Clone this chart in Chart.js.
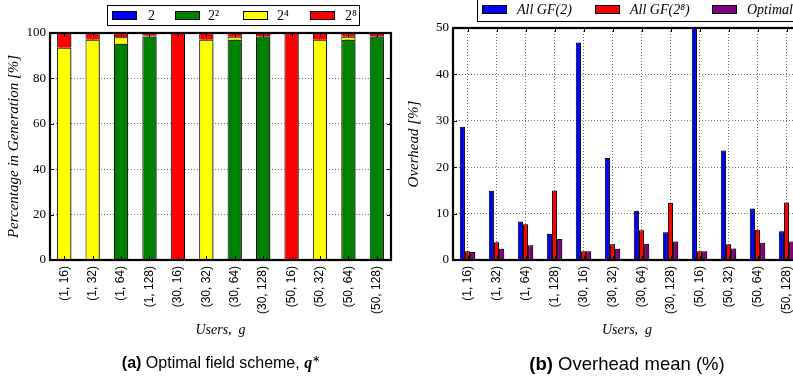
<!DOCTYPE html>
<html><head><meta charset="utf-8">
<script src="https://cdn.jsdelivr.net/npm/chart.js@4/dist/chart.umd.min.js"></script>
<style>
html,body{margin:0;padding:0;background:#fff;width:793px;height:377px;overflow:hidden;position:relative}
#wa{position:absolute;left:0;top:0;width:400px;height:377px}
#wb{position:absolute;left:400px;top:0;width:410px;height:377px}
.cap{position:absolute;font-family:"Liberation Sans",Arial,sans-serif;white-space:nowrap;transform:translateX(-50%);color:#000;line-height:1}
.cap sup{font-size:60%;vertical-align:0.6em;line-height:0}
</style></head><body>
<div id="wa"><canvas id="ca" width="400" height="377"></canvas></div>
<div id="wb"><canvas id="cb" width="410" height="377"></canvas></div>
<div class="cap" style="left:221px;top:355px;font-size:16px"><b>(a)</b> Optimal field scheme, <b><i style="font-family:'Liberation Serif',serif">q</i></b><sup>∗</sup></div>
<div class="cap" style="left:627px;top:355px;font-size:18.5px"><b>(b)</b> Overhead mean (%)</div>
<script>
// ---- data ----
const categories = ['(1, 16)','(1, 32)','(1, 64)','(1, 128)','(30, 16)','(30, 32)','(30, 64)','(30, 128)','(50, 16)','(50, 32)','(50, 64)','(50, 128)'];
const fieldLabels = ['2','2²','2⁴','2⁸'];
const share2   = [0,0,0,0,0,0,0,0,0,0,0,0];
const share4   = [0,0,95.3,98.5,0,0,97.0,98.5,0,0,97.0,98.5];
const share16  = [93.5,97.0,2.8,0.3,0,97.0,1.3,0,0,97.0,1.3,0];
const share256 = [6.5,3.0,1.9,1.2,100,3.0,1.7,1.5,100,3.0,1.7,1.5];
const overheadLabels = ['All GF(2)','All GF(2⁸)','Optimal'];
const overheadGF2     = [28.7,14.9,8.3,5.6,46.9,22.0,10.6,6.0,50,23.6,11.1,6.2];
const overheadGF256   = [1.9,3.8,7.7,15.0,1.9,3.4,6.4,12.3,1.9,3.4,6.5,12.4];
const overheadOptimal = [1.7,2.4,3.2,4.5,1.9,2.4,3.5,4.0,1.9,2.5,3.7,4.0];
const yTicksA = [0,20,40,60,80,100];
const yTicksB = [0,10,20,30,40,50];

// ---- plugins ----
const shadowPlugin = {
  id:'barShadow',
  beforeDatasetsDraw(chart){const c=chart.ctx;c.save();c.shadowColor='rgba(0,0,0,0.45)';c.shadowOffsetX=2;c.shadowOffsetY=0;c.shadowBlur=1;},
  afterDatasetsDraw(chart){chart.ctx.restore();}
};
const framePlugin = {
  id:'frameTicks',
  afterDraw(chart){
    const c=chart.ctx,a=chart.chartArea;
    c.save();c.strokeStyle='#000';c.lineWidth=1;
    const ys=chart.scales.y, xs=chart.scales.x;
    ys.ticks.forEach(t=>{const p=Math.round(ys.getPixelForValue(t.value))+0.5;
      c.beginPath();c.moveTo(a.left,p);c.lineTo(a.left+4,p);c.moveTo(a.right,p);c.lineTo(a.right-4,p);c.stroke();});
    xs.ticks.forEach((t,i)=>{const p=Math.round(xs.getPixelForTick(i))+0.5;
      c.beginPath();c.moveTo(p,a.bottom);c.lineTo(p,a.bottom-4);c.moveTo(p,a.top);c.lineTo(p,a.top+4);c.stroke();});
    c.lineWidth=2.2;c.strokeRect(a.left,a.top,a.right-a.left,a.bottom-a.top);
    c.restore();
  }
};
const boxLegend = {
  id:'boxLegend',
  afterDraw(chart,args,o){
    const c=chart.ctx;c.save();
    c.fillStyle='#fff';c.fillRect(o.box[0],o.box[1],o.box[2],o.box[3]);
    c.strokeStyle='#000';c.lineWidth=1;c.strokeRect(o.box[0]+0.5,o.box[1]+0.5,o.box[2],o.box[3]);
    c.font=o.font;c.textBaseline='middle';c.textAlign='left';
    chart.data.datasets.forEach((d,i)=>{
      const x=o.sx[i];
      c.fillStyle=d.backgroundColor;c.fillRect(x,o.sy,o.sw,o.sh);
      c.strokeStyle='#000';c.strokeRect(x+0.5,o.sy+0.5,o.sw-1,o.sh-1);
      c.fillStyle='#000';c.fillText(d.label,o.tx[i],o.ty);
    });
    c.restore();
  }
};

const gridStyle = {color:'rgba(0,0,0,0.55)',lineWidth:1,drawTicks:false};
const serif = "'Liberation Serif','Times New Roman',serif";
const sans = "'Liberation Sans',Arial,sans-serif";

function xAxis(){
  return {
    z:1, offset:true,
    grid:Object.assign({offset:false},gridStyle),
    border:{display:false,dash:[1,2]},
    ticks:{autoSkip:false,minRotation:90,maxRotation:90,padding:6,color:'#000',font:{family:sans,size:12}},
    title:{display:true,text:'Users,  g',color:'#000',font:{family:serif,size:14,style:'italic'},padding:{top:0,bottom:1}},
    afterFit(s){s.height=80;}
  };
}
function yAxis(max,step,title,w,tickVals){
  return {
    z:1, min:0, max:max,
    afterBuildTicks(s){s.ticks=tickVals.map(v=>({value:v}));},
    grid:gridStyle,
    border:{display:false,dash:[1,2]},
    ticks:{stepSize:step,padding:4,color:'#000',font:{family:serif,size:13}},
    title:{display:true,text:title,color:'#000',font:{family:serif,size:15,style:'italic'},padding:{top:5,bottom:0}},
    afterFit(s){s.width=w;}
  };
}

Chart.defaults.animation=false;

new Chart(document.getElementById('ca'),{
  type:'bar',
  data:{labels:categories,datasets:[
    {label:fieldLabels[0],data:share2,backgroundColor:'#0000ff'},
    {label:fieldLabels[1],data:share4,backgroundColor:'#008000'},
    {label:fieldLabels[2],data:share16,backgroundColor:'#ffff00'},
    {label:fieldLabels[3],data:share256,backgroundColor:'#ff0000'}
  ].map(d=>Object.assign(d,{borderColor:'#000',borderWidth:1,categoryPercentage:1,barPercentage:0.5}))},
  options:{
    responsive:false,devicePixelRatio:1,
    layout:{padding:{left:0,right:9,top:33,bottom:37}},
    plugins:{legend:{display:false},tooltip:{enabled:false},
      boxLegend:{box:[107,5,252,20],sx:[112,175,243,310],sy:11,sw:25,sh:9,tx:[148,208,277,345],ty:16,font:"14px "+serif}},
    scales:{x:Object.assign(xAxis(),{stacked:true}),
            y:Object.assign(yAxis(100,20,'Percentage in Generation [%]',50,yTicksA),{stacked:true})}
  },
  plugins:[shadowPlugin,framePlugin,boxLegend]
});

new Chart(document.getElementById('cb'),{
  type:'bar',
  data:{labels:categories,datasets:[
    {label:overheadLabels[0],data:overheadGF2,backgroundColor:'#0000ff'},
    {label:overheadLabels[1],data:overheadGF256,backgroundColor:'#ff0000'},
    {label:overheadLabels[2],data:overheadOptimal,backgroundColor:'#800080'}
  ].map(d=>Object.assign(d,{borderColor:'#000',borderWidth:1,categoryPercentage:0.53,barPercentage:1}))},
  options:{
    responsive:false,devicePixelRatio:1,
    layout:{padding:{left:0,right:9,top:28,bottom:37}},
    plugins:{legend:{display:false},tooltip:{enabled:false},
      boxLegend:{box:[77,-3,340,24],sx:[82,195,312],sy:5,sw:25,sh:9,tx:[117,230,347],ty:10,font:"italic 14px "+serif}},
    scales:{x:xAxis(),y:yAxis(50,10,'Overhead [%]',53,yTicksB)}
  },
  plugins:[shadowPlugin,framePlugin,boxLegend]
});
</script>
</body></html>
